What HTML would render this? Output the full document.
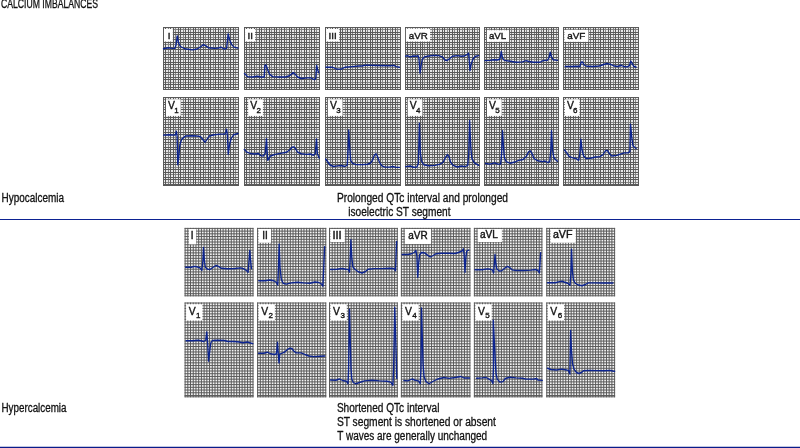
<!DOCTYPE html>
<html><head><meta charset="utf-8"><title>Calcium imbalances</title>
<style>
html,body{margin:0;padding:0;background:#fff;}
body{width:800px;height:448px;overflow:hidden;}
svg{display:block;}
text{font-family:"Liberation Sans","DejaVu Sans",sans-serif;fill:#111;}
.lab{fill:#151515;stroke:#151515;stroke-width:0.4;}
.tr{fill:none;stroke:#0c2490;stroke-width:1.35;stroke-linejoin:round;stroke-linecap:round;}
.gr{fill:none;stroke:#5a5a5a;stroke-width:1;}
.gf{fill:none;stroke:#858585;stroke-width:1;}
</style></head><body>
<svg width="800" height="448" viewBox="0 0 800 448">
<rect width="800" height="448" fill="#fff"/>

<g>
<rect x="163.5" y="27.5" width="75.0" height="62.0" fill="#e8e8e8"/>
<path class="gf" d="M168.5 27.0V90.0M175.5 27.0V90.0M183.5 27.0V90.0M190.5 27.0V90.0M198.5 27.0V90.0M205.5 27.0V90.0M213.5 27.0V90.0M220.5 27.0V90.0M228.5 27.0V90.0M235.5 27.0V90.0M163.0 29.5H239.0M163.0 37.5H239.0M163.0 44.5H239.0M163.0 52.5H239.0M163.0 59.5H239.0M163.0 67.5H239.0M163.0 74.5H239.0M163.0 82.5H239.0"/>
<path class="gr" d="M163.5 27.0V90.0M165.5 27.0V90.0M170.5 27.0V90.0M173.5 27.0V90.0M178.5 27.0V90.0M180.5 27.0V90.0M185.5 27.0V90.0M188.5 27.0V90.0M193.5 27.0V90.0M195.5 27.0V90.0M200.5 27.0V90.0M203.5 27.0V90.0M208.5 27.0V90.0M210.5 27.0V90.0M215.5 27.0V90.0M218.5 27.0V90.0M223.5 27.0V90.0M225.5 27.0V90.0M230.5 27.0V90.0M233.5 27.0V90.0M238.5 27.0V90.0M163.0 27.5H239.0M163.0 32.5H239.0M163.0 34.5H239.0M163.0 39.5H239.0M163.0 42.5H239.0M163.0 47.5H239.0M163.0 49.5H239.0M163.0 54.5H239.0M163.0 57.5H239.0M163.0 62.5H239.0M163.0 64.5H239.0M163.0 69.5H239.0M163.0 72.5H239.0M163.0 77.5H239.0M163.0 79.5H239.0M163.0 84.5H239.0M163.0 87.5H239.0M163.0 89.5H239.0"/>
<rect x="164.00" y="29.00" width="8.80" height="12.50" fill="#fff"/>
<text class="lab" x="167.70" y="39.30" font-size="9.9">I</text>
<polyline class="tr" points="163.50,48.75 168.50,47.75 172.25,48.38 174.75,48.38 176.00,45.25 177.25,35.88 178.50,42.75 180.38,46.50 184.75,48.75 192.25,49.88 197.25,49.00 201.00,46.50 203.50,44.62 206.00,45.88 208.50,47.75 211.62,48.00 214.75,48.38 218.50,48.00 221.00,47.12 224.12,49.00 226.62,48.38 228.12,34.00 229.75,40.25 231.62,44.62 234.12,47.12 237.88,48.12"/>
</g>
<g>
<rect x="244.5" y="27.5" width="75.0" height="62.0" fill="#e8e8e8"/>
<path class="gf" d="M249.5 27.0V90.0M256.5 27.0V90.0M264.5 27.0V90.0M271.5 27.0V90.0M279.5 27.0V90.0M286.5 27.0V90.0M294.5 27.0V90.0M301.5 27.0V90.0M309.5 27.0V90.0M316.5 27.0V90.0M244.0 29.5H320.0M244.0 37.5H320.0M244.0 44.5H320.0M244.0 52.5H320.0M244.0 59.5H320.0M244.0 67.5H320.0M244.0 74.5H320.0M244.0 82.5H320.0"/>
<path class="gr" d="M244.5 27.0V90.0M246.5 27.0V90.0M251.5 27.0V90.0M254.5 27.0V90.0M259.5 27.0V90.0M261.5 27.0V90.0M266.5 27.0V90.0M269.5 27.0V90.0M274.5 27.0V90.0M276.5 27.0V90.0M281.5 27.0V90.0M284.5 27.0V90.0M289.5 27.0V90.0M291.5 27.0V90.0M296.5 27.0V90.0M299.5 27.0V90.0M304.5 27.0V90.0M306.5 27.0V90.0M311.5 27.0V90.0M314.5 27.0V90.0M319.5 27.0V90.0M244.0 27.5H320.0M244.0 32.5H320.0M244.0 34.5H320.0M244.0 39.5H320.0M244.0 42.5H320.0M244.0 47.5H320.0M244.0 49.5H320.0M244.0 54.5H320.0M244.0 57.5H320.0M244.0 62.5H320.0M244.0 64.5H320.0M244.0 69.5H320.0M244.0 72.5H320.0M244.0 77.5H320.0M244.0 79.5H320.0M244.0 84.5H320.0M244.0 87.5H320.0M244.0 89.5H320.0"/>
<rect x="245.10" y="29.00" width="10.00" height="12.50" fill="#fff"/>
<text class="lab" x="247.45" y="39.30" font-size="9.9">II</text>
<polyline class="tr" points="244.50,73.50 247.62,76.62 252.62,77.00 257.62,76.25 260.75,77.00 264.25,77.00 264.88,65.38 266.00,65.00 267.62,69.75 269.50,74.12 272.62,76.62 279.50,77.00 285.75,77.00 289.50,75.75 293.25,72.62 295.12,74.12 297.62,77.00 301.38,78.50 307.00,77.88 310.75,77.88 314.50,79.75 315.75,78.50 316.62,65.38 317.62,69.75 318.88,72.88"/>
</g>
<g>
<rect x="325.5" y="27.5" width="75.0" height="62.0" fill="#e8e8e8"/>
<path class="gf" d="M330.5 27.0V90.0M337.5 27.0V90.0M345.5 27.0V90.0M352.5 27.0V90.0M360.5 27.0V90.0M367.5 27.0V90.0M375.5 27.0V90.0M382.5 27.0V90.0M390.5 27.0V90.0M397.5 27.0V90.0M325.0 29.5H401.0M325.0 37.5H401.0M325.0 44.5H401.0M325.0 52.5H401.0M325.0 59.5H401.0M325.0 67.5H401.0M325.0 74.5H401.0M325.0 82.5H401.0"/>
<path class="gr" d="M325.5 27.0V90.0M327.5 27.0V90.0M332.5 27.0V90.0M335.5 27.0V90.0M340.5 27.0V90.0M342.5 27.0V90.0M347.5 27.0V90.0M350.5 27.0V90.0M355.5 27.0V90.0M357.5 27.0V90.0M362.5 27.0V90.0M365.5 27.0V90.0M370.5 27.0V90.0M372.5 27.0V90.0M377.5 27.0V90.0M380.5 27.0V90.0M385.5 27.0V90.0M387.5 27.0V90.0M392.5 27.0V90.0M395.5 27.0V90.0M400.5 27.0V90.0M325.0 27.5H401.0M325.0 32.5H401.0M325.0 34.5H401.0M325.0 39.5H401.0M325.0 42.5H401.0M325.0 47.5H401.0M325.0 49.5H401.0M325.0 54.5H401.0M325.0 57.5H401.0M325.0 62.5H401.0M325.0 64.5H401.0M325.0 69.5H401.0M325.0 72.5H401.0M325.0 77.5H401.0M325.0 79.5H401.0M325.0 84.5H401.0M325.0 87.5H401.0M325.0 89.5H401.0"/>
<rect x="326.10" y="29.00" width="13.10" height="12.50" fill="#fff"/>
<text class="lab" x="328.45" y="39.30" font-size="9.9">III</text>
<polyline class="tr" points="326.00,67.25 332.50,67.25 336.88,69.12 341.25,69.12 345.00,67.25 352.50,66.62 358.75,66.00 361.88,66.00 365.62,65.12 377.50,65.50 390.00,65.75 393.75,65.38 396.25,66.62 399.38,67.25"/>
</g>
<g>
<rect x="405.5" y="27.5" width="74.0" height="62.0" fill="#e8e8e8"/>
<path class="gf" d="M410.5 27.0V90.0M417.5 27.0V90.0M424.5 27.0V90.0M432.5 27.0V90.0M439.5 27.0V90.0M447.5 27.0V90.0M454.5 27.0V90.0M462.5 27.0V90.0M469.5 27.0V90.0M477.5 27.0V90.0M405.0 29.5H480.0M405.0 37.5H480.0M405.0 44.5H480.0M405.0 52.5H480.0M405.0 59.5H480.0M405.0 67.5H480.0M405.0 74.5H480.0M405.0 82.5H480.0"/>
<path class="gr" d="M405.5 27.0V90.0M407.5 27.0V90.0M412.5 27.0V90.0M415.5 27.0V90.0M420.5 27.0V90.0M422.5 27.0V90.0M427.5 27.0V90.0M429.5 27.0V90.0M434.5 27.0V90.0M437.5 27.0V90.0M442.5 27.0V90.0M444.5 27.0V90.0M449.5 27.0V90.0M452.5 27.0V90.0M457.5 27.0V90.0M459.5 27.0V90.0M464.5 27.0V90.0M467.5 27.0V90.0M472.5 27.0V90.0M474.5 27.0V90.0M479.5 27.0V90.0M405.0 27.5H480.0M405.0 32.5H480.0M405.0 34.5H480.0M405.0 39.5H480.0M405.0 42.5H480.0M405.0 47.5H480.0M405.0 49.5H480.0M405.0 54.5H480.0M405.0 57.5H480.0M405.0 62.5H480.0M405.0 64.5H480.0M405.0 69.5H480.0M405.0 72.5H480.0M405.0 77.5H480.0M405.0 79.5H480.0M405.0 84.5H480.0M405.0 87.5H480.0M405.0 89.5H480.0"/>
<rect x="405.90" y="28.70" width="24.20" height="12.80" fill="#fff"/>
<text class="lab" x="408.80" y="39.30" font-size="9.9" textLength="19.00" lengthAdjust="spacingAndGlyphs">aVR</text>
<polyline class="tr" points="405.62,56.25 407.50,55.62 410.00,56.88 413.75,56.00 416.25,56.25 418.12,55.62 419.00,58.75 420.00,73.12 421.00,66.25 422.25,59.38 424.38,56.88 428.75,56.00 433.75,55.38 438.75,55.62 442.50,56.88 445.00,60.00 446.88,60.62 449.38,58.75 452.50,56.25 457.50,55.62 461.25,56.25 464.38,56.00 467.50,54.38 468.50,53.12 469.12,58.75 470.00,70.62 471.25,63.75 473.12,58.75 475.62,56.25 478.75,55.62"/>
</g>
<g>
<rect x="484.5" y="27.5" width="74.0" height="62.0" fill="#e8e8e8"/>
<path class="gf" d="M489.5 27.0V90.0M496.5 27.0V90.0M504.5 27.0V90.0M511.5 27.0V90.0M519.5 27.0V90.0M526.5 27.0V90.0M534.5 27.0V90.0M541.5 27.0V90.0M548.5 27.0V90.0M556.5 27.0V90.0M484.0 29.5H559.0M484.0 37.5H559.0M484.0 44.5H559.0M484.0 52.5H559.0M484.0 59.5H559.0M484.0 67.5H559.0M484.0 74.5H559.0M484.0 82.5H559.0"/>
<path class="gr" d="M484.5 27.0V90.0M486.5 27.0V90.0M491.5 27.0V90.0M494.5 27.0V90.0M499.5 27.0V90.0M501.5 27.0V90.0M506.5 27.0V90.0M509.5 27.0V90.0M514.5 27.0V90.0M516.5 27.0V90.0M521.5 27.0V90.0M524.5 27.0V90.0M529.5 27.0V90.0M531.5 27.0V90.0M536.5 27.0V90.0M538.5 27.0V90.0M543.5 27.0V90.0M546.5 27.0V90.0M551.5 27.0V90.0M553.5 27.0V90.0M558.5 27.0V90.0M484.0 27.5H559.0M484.0 32.5H559.0M484.0 34.5H559.0M484.0 39.5H559.0M484.0 42.5H559.0M484.0 47.5H559.0M484.0 49.5H559.0M484.0 54.5H559.0M484.0 57.5H559.0M484.0 62.5H559.0M484.0 64.5H559.0M484.0 69.5H559.0M484.0 72.5H559.0M484.0 77.5H559.0M484.0 79.5H559.0M484.0 84.5H559.0M484.0 87.5H559.0M484.0 89.5H559.0"/>
<rect x="486.90" y="30.25" width="22.20" height="11.55" fill="#fff"/>
<text class="lab" x="489.00" y="39.30" font-size="9.9" textLength="17.20" lengthAdjust="spacingAndGlyphs">aVL</text>
<polyline class="tr" points="485.00,60.62 490.00,60.38 493.75,59.75 497.50,60.00 500.00,59.00 501.25,51.50 502.50,58.12 504.38,60.38 510.00,61.25 516.25,62.25 522.50,61.88 526.25,60.62 528.75,61.50 533.75,62.25 540.00,62.25 543.12,60.62 547.50,60.25 549.12,57.50 550.25,52.25 551.50,56.88 553.12,59.75 557.50,60.38"/>
</g>
<g>
<rect x="563.5" y="27.5" width="75.0" height="62.0" fill="#e8e8e8"/>
<path class="gf" d="M568.5 27.0V90.0M575.5 27.0V90.0M583.5 27.0V90.0M590.5 27.0V90.0M598.5 27.0V90.0M605.5 27.0V90.0M613.5 27.0V90.0M620.5 27.0V90.0M628.5 27.0V90.0M635.5 27.0V90.0M563.0 29.5H639.0M563.0 37.5H639.0M563.0 44.5H639.0M563.0 52.5H639.0M563.0 59.5H639.0M563.0 67.5H639.0M563.0 74.5H639.0M563.0 82.5H639.0"/>
<path class="gr" d="M563.5 27.0V90.0M565.5 27.0V90.0M570.5 27.0V90.0M573.5 27.0V90.0M578.5 27.0V90.0M580.5 27.0V90.0M585.5 27.0V90.0M588.5 27.0V90.0M593.5 27.0V90.0M595.5 27.0V90.0M600.5 27.0V90.0M603.5 27.0V90.0M608.5 27.0V90.0M610.5 27.0V90.0M615.5 27.0V90.0M618.5 27.0V90.0M623.5 27.0V90.0M625.5 27.0V90.0M630.5 27.0V90.0M633.5 27.0V90.0M638.5 27.0V90.0M563.0 27.5H639.0M563.0 32.5H639.0M563.0 34.5H639.0M563.0 39.5H639.0M563.0 42.5H639.0M563.0 47.5H639.0M563.0 49.5H639.0M563.0 54.5H639.0M563.0 57.5H639.0M563.0 62.5H639.0M563.0 64.5H639.0M563.0 69.5H639.0M563.0 72.5H639.0M563.0 77.5H639.0M563.0 79.5H639.0M563.0 84.5H639.0M563.0 87.5H639.0M563.0 89.5H639.0"/>
<rect x="564.40" y="29.90" width="24.00" height="11.90" fill="#fff"/>
<text class="lab" x="567.20" y="39.30" font-size="9.9" textLength="18.00" lengthAdjust="spacingAndGlyphs">aVF</text>
<polyline class="tr" points="565.25,66.50 571.75,66.50 576.75,66.25 579.88,66.50 581.12,62.25 582.38,61.88 584.25,65.00 586.75,66.25 593.00,66.50 599.25,66.00 603.00,64.75 606.75,63.50 610.50,64.38 614.25,66.00 618.00,66.50 621.12,65.25 623.62,66.50 627.38,66.88 629.50,65.62 630.75,61.25 632.00,63.12 633.62,66.25 636.12,67.25"/>
</g>
<g>
<rect x="163.5" y="97.5" width="75.0" height="88.0" fill="#e8e8e8"/>
<path class="gf" d="M168.5 97.0V186.0M175.5 97.0V186.0M183.5 97.0V186.0M190.5 97.0V186.0M198.5 97.0V186.0M205.5 97.0V186.0M213.5 97.0V186.0M220.5 97.0V186.0M228.5 97.0V186.0M235.5 97.0V186.0M163.0 99.5H239.0M163.0 107.5H239.0M163.0 114.5H239.0M163.0 122.5H239.0M163.0 129.5H239.0M163.0 137.5H239.0M163.0 144.5H239.0M163.0 152.5H239.0M163.0 159.5H239.0M163.0 167.5H239.0M163.0 174.5H239.0M163.0 182.5H239.0"/>
<path class="gr" d="M163.5 97.0V186.0M165.5 97.0V186.0M170.5 97.0V186.0M173.5 97.0V186.0M178.5 97.0V186.0M180.5 97.0V186.0M185.5 97.0V186.0M188.5 97.0V186.0M193.5 97.0V186.0M195.5 97.0V186.0M200.5 97.0V186.0M203.5 97.0V186.0M208.5 97.0V186.0M210.5 97.0V186.0M215.5 97.0V186.0M218.5 97.0V186.0M223.5 97.0V186.0M225.5 97.0V186.0M230.5 97.0V186.0M233.5 97.0V186.0M238.5 97.0V186.0M163.0 97.5H239.0M163.0 102.5H239.0M163.0 104.5H239.0M163.0 109.5H239.0M163.0 112.5H239.0M163.0 117.5H239.0M163.0 119.5H239.0M163.0 124.5H239.0M163.0 127.5H239.0M163.0 132.5H239.0M163.0 134.5H239.0M163.0 139.5H239.0M163.0 142.5H239.0M163.0 147.5H239.0M163.0 149.5H239.0M163.0 154.5H239.0M163.0 157.5H239.0M163.0 162.5H239.0M163.0 164.5H239.0M163.0 169.5H239.0M163.0 172.5H239.0M163.0 177.5H239.0M163.0 179.5H239.0M163.0 184.5H239.0M163.0 185.5H239.0"/>
<rect x="166.00" y="99.30" width="14.70" height="16.60" fill="#fff"/>
<text class="lab" style="stroke-width:0.35" x="168.10" y="109.30" font-size="10.4" textLength="6.9" lengthAdjust="spacingAndGlyphs">V</text>
<text class="lab" x="174.30" y="112.80" font-size="8.0" style="stroke-width:0.35">1</text>
<polyline class="tr" points="163.62,135.12 169.25,134.75 174.25,135.12 175.50,134.75 176.38,131.25 177.12,136.00 177.75,164.75 178.62,158.50 179.88,144.75 181.75,139.12 185.50,136.00 191.75,135.75 196.75,136.00 200.50,136.62 203.00,139.75 205.12,142.25 206.75,139.75 209.25,136.00 214.25,134.75 220.50,134.12 224.88,134.12 225.88,132.25 226.50,129.12 227.38,134.75 228.25,154.12 229.50,144.75 231.12,138.50 233.62,134.75 238.00,133.50"/>
</g>
<g>
<rect x="244.5" y="97.5" width="75.0" height="88.0" fill="#e8e8e8"/>
<path class="gf" d="M249.5 97.0V186.0M256.5 97.0V186.0M264.5 97.0V186.0M271.5 97.0V186.0M279.5 97.0V186.0M286.5 97.0V186.0M294.5 97.0V186.0M301.5 97.0V186.0M309.5 97.0V186.0M316.5 97.0V186.0M244.0 99.5H320.0M244.0 107.5H320.0M244.0 114.5H320.0M244.0 122.5H320.0M244.0 129.5H320.0M244.0 137.5H320.0M244.0 144.5H320.0M244.0 152.5H320.0M244.0 159.5H320.0M244.0 167.5H320.0M244.0 174.5H320.0M244.0 182.5H320.0"/>
<path class="gr" d="M244.5 97.0V186.0M246.5 97.0V186.0M251.5 97.0V186.0M254.5 97.0V186.0M259.5 97.0V186.0M261.5 97.0V186.0M266.5 97.0V186.0M269.5 97.0V186.0M274.5 97.0V186.0M276.5 97.0V186.0M281.5 97.0V186.0M284.5 97.0V186.0M289.5 97.0V186.0M291.5 97.0V186.0M296.5 97.0V186.0M299.5 97.0V186.0M304.5 97.0V186.0M306.5 97.0V186.0M311.5 97.0V186.0M314.5 97.0V186.0M319.5 97.0V186.0M244.0 97.5H320.0M244.0 102.5H320.0M244.0 104.5H320.0M244.0 109.5H320.0M244.0 112.5H320.0M244.0 117.5H320.0M244.0 119.5H320.0M244.0 124.5H320.0M244.0 127.5H320.0M244.0 132.5H320.0M244.0 134.5H320.0M244.0 139.5H320.0M244.0 142.5H320.0M244.0 147.5H320.0M244.0 149.5H320.0M244.0 154.5H320.0M244.0 157.5H320.0M244.0 162.5H320.0M244.0 164.5H320.0M244.0 169.5H320.0M244.0 172.5H320.0M244.0 177.5H320.0M244.0 179.5H320.0M244.0 184.5H320.0M244.0 185.5H320.0"/>
<rect x="248.20" y="99.30" width="14.70" height="16.60" fill="#fff"/>
<text class="lab" style="stroke-width:0.35" x="250.30" y="109.30" font-size="10.4" textLength="6.9" lengthAdjust="spacingAndGlyphs">V</text>
<text class="lab" x="256.50" y="112.80" font-size="8.0" style="stroke-width:0.35">2</text>
<polyline class="tr" points="244.25,149.38 246.50,151.88 250.25,153.50 254.62,154.00 258.38,153.50 260.88,155.62 263.38,156.00 265.25,153.12 266.50,138.75 267.12,151.25 267.75,160.25 269.00,158.75 270.25,156.00 275.25,154.38 281.50,153.12 286.50,152.25 289.62,150.00 292.12,147.25 294.00,146.88 295.88,149.38 297.75,152.25 301.50,153.75 306.50,154.38 310.25,154.00 313.38,155.25 315.25,153.75 316.50,139.00 317.38,153.75 319.25,158.12"/>
</g>
<g>
<rect x="325.5" y="97.5" width="75.0" height="88.0" fill="#e8e8e8"/>
<path class="gf" d="M330.5 97.0V186.0M337.5 97.0V186.0M345.5 97.0V186.0M352.5 97.0V186.0M360.5 97.0V186.0M367.5 97.0V186.0M375.5 97.0V186.0M382.5 97.0V186.0M390.5 97.0V186.0M397.5 97.0V186.0M325.0 99.5H401.0M325.0 107.5H401.0M325.0 114.5H401.0M325.0 122.5H401.0M325.0 129.5H401.0M325.0 137.5H401.0M325.0 144.5H401.0M325.0 152.5H401.0M325.0 159.5H401.0M325.0 167.5H401.0M325.0 174.5H401.0M325.0 182.5H401.0"/>
<path class="gr" d="M325.5 97.0V186.0M327.5 97.0V186.0M332.5 97.0V186.0M335.5 97.0V186.0M340.5 97.0V186.0M342.5 97.0V186.0M347.5 97.0V186.0M350.5 97.0V186.0M355.5 97.0V186.0M357.5 97.0V186.0M362.5 97.0V186.0M365.5 97.0V186.0M370.5 97.0V186.0M372.5 97.0V186.0M377.5 97.0V186.0M380.5 97.0V186.0M385.5 97.0V186.0M387.5 97.0V186.0M392.5 97.0V186.0M395.5 97.0V186.0M400.5 97.0V186.0M325.0 97.5H401.0M325.0 102.5H401.0M325.0 104.5H401.0M325.0 109.5H401.0M325.0 112.5H401.0M325.0 117.5H401.0M325.0 119.5H401.0M325.0 124.5H401.0M325.0 127.5H401.0M325.0 132.5H401.0M325.0 134.5H401.0M325.0 139.5H401.0M325.0 142.5H401.0M325.0 147.5H401.0M325.0 149.5H401.0M325.0 154.5H401.0M325.0 157.5H401.0M325.0 162.5H401.0M325.0 164.5H401.0M325.0 169.5H401.0M325.0 172.5H401.0M325.0 177.5H401.0M325.0 179.5H401.0M325.0 184.5H401.0M325.0 185.5H401.0"/>
<rect x="327.85" y="99.30" width="14.70" height="16.60" fill="#fff"/>
<text class="lab" style="stroke-width:0.35" x="329.95" y="109.30" font-size="10.4" textLength="6.9" lengthAdjust="spacingAndGlyphs">V</text>
<text class="lab" x="336.15" y="112.80" font-size="8.0" style="stroke-width:0.35">3</text>
<polyline class="tr" points="325.62,159.00 327.50,161.50 330.00,165.00 333.75,166.50 337.50,165.88 341.25,165.50 345.00,166.50 347.25,165.25 348.12,149.00 348.75,130.00 349.62,146.50 350.62,160.25 352.50,163.38 356.25,164.62 362.50,164.62 367.50,164.25 370.62,163.00 372.50,160.25 374.38,155.25 376.00,153.75 377.50,156.50 379.38,162.12 381.88,165.88 385.00,167.12 390.00,167.12 392.50,166.50 396.25,167.38 399.38,167.38"/>
</g>
<g>
<rect x="405.5" y="97.5" width="74.0" height="88.0" fill="#e8e8e8"/>
<path class="gf" d="M410.5 97.0V186.0M417.5 97.0V186.0M424.5 97.0V186.0M432.5 97.0V186.0M439.5 97.0V186.0M447.5 97.0V186.0M454.5 97.0V186.0M462.5 97.0V186.0M469.5 97.0V186.0M477.5 97.0V186.0M405.0 99.5H480.0M405.0 107.5H480.0M405.0 114.5H480.0M405.0 122.5H480.0M405.0 129.5H480.0M405.0 137.5H480.0M405.0 144.5H480.0M405.0 152.5H480.0M405.0 159.5H480.0M405.0 167.5H480.0M405.0 174.5H480.0M405.0 182.5H480.0"/>
<path class="gr" d="M405.5 97.0V186.0M407.5 97.0V186.0M412.5 97.0V186.0M415.5 97.0V186.0M420.5 97.0V186.0M422.5 97.0V186.0M427.5 97.0V186.0M429.5 97.0V186.0M434.5 97.0V186.0M437.5 97.0V186.0M442.5 97.0V186.0M444.5 97.0V186.0M449.5 97.0V186.0M452.5 97.0V186.0M457.5 97.0V186.0M459.5 97.0V186.0M464.5 97.0V186.0M467.5 97.0V186.0M472.5 97.0V186.0M474.5 97.0V186.0M479.5 97.0V186.0M405.0 97.5H480.0M405.0 102.5H480.0M405.0 104.5H480.0M405.0 109.5H480.0M405.0 112.5H480.0M405.0 117.5H480.0M405.0 119.5H480.0M405.0 124.5H480.0M405.0 127.5H480.0M405.0 132.5H480.0M405.0 134.5H480.0M405.0 139.5H480.0M405.0 142.5H480.0M405.0 147.5H480.0M405.0 149.5H480.0M405.0 154.5H480.0M405.0 157.5H480.0M405.0 162.5H480.0M405.0 164.5H480.0M405.0 169.5H480.0M405.0 172.5H480.0M405.0 177.5H480.0M405.0 179.5H480.0M405.0 184.5H480.0M405.0 185.5H480.0"/>
<rect x="407.70" y="99.30" width="14.70" height="16.60" fill="#fff"/>
<text class="lab" style="stroke-width:0.35" x="409.80" y="109.30" font-size="10.4" textLength="6.9" lengthAdjust="spacingAndGlyphs">V</text>
<text class="lab" x="416.00" y="112.80" font-size="8.0" style="stroke-width:0.35">4</text>
<polyline class="tr" points="405.62,166.62 410.00,166.00 413.75,167.25 416.88,167.00 418.38,163.50 419.38,123.25 420.38,153.50 421.50,161.00 423.75,164.75 428.75,165.75 435.00,165.38 440.00,164.12 443.12,162.25 445.62,157.25 447.50,154.75 449.00,156.62 450.62,162.25 453.12,165.38 457.50,167.00 461.25,166.00 465.00,166.62 467.75,165.38 468.75,153.50 469.62,120.38 470.75,147.25 471.88,158.50 474.38,162.88 478.75,165.38"/>
</g>
<g>
<rect x="484.5" y="97.5" width="74.0" height="88.0" fill="#e8e8e8"/>
<path class="gf" d="M489.5 97.0V186.0M496.5 97.0V186.0M504.5 97.0V186.0M511.5 97.0V186.0M519.5 97.0V186.0M526.5 97.0V186.0M534.5 97.0V186.0M541.5 97.0V186.0M548.5 97.0V186.0M556.5 97.0V186.0M484.0 99.5H559.0M484.0 107.5H559.0M484.0 114.5H559.0M484.0 122.5H559.0M484.0 129.5H559.0M484.0 137.5H559.0M484.0 144.5H559.0M484.0 152.5H559.0M484.0 159.5H559.0M484.0 167.5H559.0M484.0 174.5H559.0M484.0 182.5H559.0"/>
<path class="gr" d="M484.5 97.0V186.0M486.5 97.0V186.0M491.5 97.0V186.0M494.5 97.0V186.0M499.5 97.0V186.0M501.5 97.0V186.0M506.5 97.0V186.0M509.5 97.0V186.0M514.5 97.0V186.0M516.5 97.0V186.0M521.5 97.0V186.0M524.5 97.0V186.0M529.5 97.0V186.0M531.5 97.0V186.0M536.5 97.0V186.0M538.5 97.0V186.0M543.5 97.0V186.0M546.5 97.0V186.0M551.5 97.0V186.0M553.5 97.0V186.0M558.5 97.0V186.0M484.0 97.5H559.0M484.0 102.5H559.0M484.0 104.5H559.0M484.0 109.5H559.0M484.0 112.5H559.0M484.0 117.5H559.0M484.0 119.5H559.0M484.0 124.5H559.0M484.0 127.5H559.0M484.0 132.5H559.0M484.0 134.5H559.0M484.0 139.5H559.0M484.0 142.5H559.0M484.0 147.5H559.0M484.0 149.5H559.0M484.0 154.5H559.0M484.0 157.5H559.0M484.0 162.5H559.0M484.0 164.5H559.0M484.0 169.5H559.0M484.0 172.5H559.0M484.0 177.5H559.0M484.0 179.5H559.0M484.0 184.5H559.0M484.0 185.5H559.0"/>
<rect x="487.00" y="99.30" width="14.70" height="16.60" fill="#fff"/>
<text class="lab" style="stroke-width:0.35" x="489.10" y="109.30" font-size="10.4" textLength="6.9" lengthAdjust="spacingAndGlyphs">V</text>
<text class="lab" x="495.30" y="112.80" font-size="8.0" style="stroke-width:0.35">5</text>
<polyline class="tr" points="485.62,163.50 490.00,164.12 494.38,162.88 498.12,164.12 500.62,164.12 501.62,153.50 502.50,130.75 503.50,147.25 504.38,157.88 506.25,161.62 510.00,163.25 515.00,162.00 518.75,160.38 523.12,159.50 526.25,156.62 528.75,151.62 530.62,151.00 532.25,154.12 534.00,158.50 537.50,160.75 542.50,161.62 545.00,161.00 547.50,162.50 549.75,161.62 550.75,151.00 551.50,130.75 552.50,149.75 553.75,157.25 555.62,159.75 557.50,161.25"/>
</g>
<g>
<rect x="563.5" y="97.5" width="75.0" height="88.0" fill="#e8e8e8"/>
<path class="gf" d="M568.5 97.0V186.0M575.5 97.0V186.0M583.5 97.0V186.0M590.5 97.0V186.0M598.5 97.0V186.0M605.5 97.0V186.0M613.5 97.0V186.0M620.5 97.0V186.0M628.5 97.0V186.0M635.5 97.0V186.0M563.0 99.5H639.0M563.0 107.5H639.0M563.0 114.5H639.0M563.0 122.5H639.0M563.0 129.5H639.0M563.0 137.5H639.0M563.0 144.5H639.0M563.0 152.5H639.0M563.0 159.5H639.0M563.0 167.5H639.0M563.0 174.5H639.0M563.0 182.5H639.0"/>
<path class="gr" d="M563.5 97.0V186.0M565.5 97.0V186.0M570.5 97.0V186.0M573.5 97.0V186.0M578.5 97.0V186.0M580.5 97.0V186.0M585.5 97.0V186.0M588.5 97.0V186.0M593.5 97.0V186.0M595.5 97.0V186.0M600.5 97.0V186.0M603.5 97.0V186.0M608.5 97.0V186.0M610.5 97.0V186.0M615.5 97.0V186.0M618.5 97.0V186.0M623.5 97.0V186.0M625.5 97.0V186.0M630.5 97.0V186.0M633.5 97.0V186.0M638.5 97.0V186.0M563.0 97.5H639.0M563.0 102.5H639.0M563.0 104.5H639.0M563.0 109.5H639.0M563.0 112.5H639.0M563.0 117.5H639.0M563.0 119.5H639.0M563.0 124.5H639.0M563.0 127.5H639.0M563.0 132.5H639.0M563.0 134.5H639.0M563.0 139.5H639.0M563.0 142.5H639.0M563.0 147.5H639.0M563.0 149.5H639.0M563.0 154.5H639.0M563.0 157.5H639.0M563.0 162.5H639.0M563.0 164.5H639.0M563.0 169.5H639.0M563.0 172.5H639.0M563.0 177.5H639.0M563.0 179.5H639.0M563.0 184.5H639.0M563.0 185.5H639.0"/>
<rect x="564.80" y="99.30" width="14.70" height="16.60" fill="#fff"/>
<text class="lab" style="stroke-width:0.35" x="566.90" y="109.30" font-size="10.4" textLength="6.9" lengthAdjust="spacingAndGlyphs">V</text>
<text class="lab" x="573.10" y="112.80" font-size="8.0" style="stroke-width:0.35">6</text>
<polyline class="tr" points="564.50,150.00 566.75,152.88 569.25,156.62 573.00,157.88 576.12,158.50 578.62,160.38 579.88,153.50 580.88,139.12 582.00,149.75 583.62,156.00 586.12,158.50 590.50,158.25 595.50,157.00 599.88,156.62 603.00,154.75 605.50,150.75 607.38,150.38 609.25,153.50 611.75,156.00 616.75,155.38 620.50,154.12 624.25,152.88 628.00,152.88 629.88,151.62 630.50,124.12 631.75,137.25 633.00,146.00 636.12,148.50"/>
</g>
<g>
<rect x="185.5" y="228.5" width="68.0" height="67.0" fill="#f4f4f4"/>
<path class="gf" d=""/>
<path class="gr" style="stroke-width:1.0" d="M185.10 227.90V296.30M187.82 227.90V296.30M190.53 227.90V296.30M193.25 227.90V296.30M195.96 227.90V296.30M198.68 227.90V296.30M201.40 227.90V296.30M204.11 227.90V296.30M206.83 227.90V296.30M209.54 227.90V296.30M212.26 227.90V296.30M214.98 227.90V296.30M217.69 227.90V296.30M220.41 227.90V296.30M223.12 227.90V296.30M225.84 227.90V296.30M228.56 227.90V296.30M231.27 227.90V296.30M233.99 227.90V296.30M236.70 227.90V296.30M239.42 227.90V296.30M242.14 227.90V296.30M244.85 227.90V296.30M247.57 227.90V296.30M250.28 227.90V296.30M253.00 227.90V296.30M184.60 228.40H253.50M184.60 231.12H253.50M184.60 233.84H253.50M184.60 236.56H253.50M184.60 239.28H253.50M184.60 242.00H253.50M184.60 244.72H253.50M184.60 247.44H253.50M184.60 250.16H253.50M184.60 252.88H253.50M184.60 255.60H253.50M184.60 258.32H253.50M184.60 261.04H253.50M184.60 263.76H253.50M184.60 266.48H253.50M184.60 269.20H253.50M184.60 271.92H253.50M184.60 274.64H253.50M184.60 277.36H253.50M184.60 280.08H253.50M184.60 282.80H253.50M184.60 285.52H253.50M184.60 288.24H253.50M184.60 290.96H253.50M184.60 293.68H253.50M184.60 295.80H253.50"/>
<rect x="188.90" y="229.00" width="7.20" height="15.30" fill="#fff"/>
<text class="lab" x="190.70" y="238.70" font-size="10.0">I</text>
<polyline class="tr" points="185.62,267.25 191.25,267.25 194.38,266.38 197.50,267.00 200.00,267.88 201.88,270.38 202.88,261.00 203.50,247.50 204.38,261.00 205.38,267.25 207.50,269.12 210.00,269.50 213.12,267.25 216.25,265.38 218.75,266.62 221.25,268.25 227.50,268.75 235.00,268.50 240.62,267.88 243.75,268.75 246.25,270.38 248.12,272.25 249.00,261.00 249.75,250.38 250.62,261.00 251.50,268.75"/>
</g>
<g>
<rect x="257.5" y="228.5" width="68.0" height="67.0" fill="#f4f4f4"/>
<path class="gf" d=""/>
<path class="gr" style="stroke-width:1.0" d="M257.60 227.90V296.30M260.33 227.90V296.30M263.05 227.90V296.30M265.78 227.90V296.30M268.50 227.90V296.30M271.23 227.90V296.30M273.96 227.90V296.30M276.68 227.90V296.30M279.41 227.90V296.30M282.13 227.90V296.30M284.86 227.90V296.30M287.59 227.90V296.30M290.31 227.90V296.30M293.04 227.90V296.30M295.76 227.90V296.30M298.49 227.90V296.30M301.22 227.90V296.30M303.94 227.90V296.30M306.67 227.90V296.30M309.39 227.90V296.30M312.12 227.90V296.30M314.85 227.90V296.30M317.57 227.90V296.30M320.30 227.90V296.30M323.02 227.90V296.30M325.75 227.90V296.30M257.10 228.40H326.25M257.10 231.12H326.25M257.10 233.84H326.25M257.10 236.56H326.25M257.10 239.28H326.25M257.10 242.00H326.25M257.10 244.72H326.25M257.10 247.44H326.25M257.10 250.16H326.25M257.10 252.88H326.25M257.10 255.60H326.25M257.10 258.32H326.25M257.10 261.04H326.25M257.10 263.76H326.25M257.10 266.48H326.25M257.10 269.20H326.25M257.10 271.92H326.25M257.10 274.64H326.25M257.10 277.36H326.25M257.10 280.08H326.25M257.10 282.80H326.25M257.10 285.52H326.25M257.10 288.24H326.25M257.10 290.96H326.25M257.10 293.68H326.25M257.10 295.80H326.25"/>
<rect x="258.50" y="229.00" width="12.50" height="13.75" fill="#fff"/>
<text class="lab" x="262.20" y="238.60" font-size="10.0">II</text>
<polyline class="tr" points="258.75,280.75 265.00,280.75 270.00,280.00 273.75,280.75 276.25,282.25 277.75,285.00 278.50,267.25 279.12,244.12 280.00,267.25 281.25,279.12 283.12,283.25 286.25,284.12 291.25,282.88 297.50,282.25 303.75,282.88 310.00,283.25 315.00,282.00 318.75,282.50 321.25,283.75 322.88,286.25 323.75,267.25 324.62,246.62"/>
</g>
<g>
<rect x="329.5" y="228.5" width="68.0" height="67.0" fill="#f4f4f4"/>
<path class="gf" d=""/>
<path class="gr" style="stroke-width:1.0" d="M329.50 227.90V296.30M332.21 227.90V296.30M334.92 227.90V296.30M337.64 227.90V296.30M340.35 227.90V296.30M343.06 227.90V296.30M345.77 227.90V296.30M348.48 227.90V296.30M351.20 227.90V296.30M353.91 227.90V296.30M356.62 227.90V296.30M359.33 227.90V296.30M362.04 227.90V296.30M364.76 227.90V296.30M367.47 227.90V296.30M370.18 227.90V296.30M372.89 227.90V296.30M375.60 227.90V296.30M378.32 227.90V296.30M381.03 227.90V296.30M383.74 227.90V296.30M386.45 227.90V296.30M389.16 227.90V296.30M391.88 227.90V296.30M394.59 227.90V296.30M397.30 227.90V296.30M329.00 228.40H397.80M329.00 231.12H397.80M329.00 233.84H397.80M329.00 236.56H397.80M329.00 239.28H397.80M329.00 242.00H397.80M329.00 244.72H397.80M329.00 247.44H397.80M329.00 250.16H397.80M329.00 252.88H397.80M329.00 255.60H397.80M329.00 258.32H397.80M329.00 261.04H397.80M329.00 263.76H397.80M329.00 266.48H397.80M329.00 269.20H397.80M329.00 271.92H397.80M329.00 274.64H397.80M329.00 277.36H397.80M329.00 280.08H397.80M329.00 282.80H397.80M329.00 285.52H397.80M329.00 288.24H397.80M329.00 290.96H397.80M329.00 293.68H397.80M329.00 295.80H397.80"/>
<rect x="330.40" y="229.00" width="14.35" height="13.00" fill="#fff"/>
<text class="lab" x="332.40" y="238.60" font-size="10.0" textLength="9.30" lengthAdjust="spacingAndGlyphs">III</text>
<polyline class="tr" points="330.50,269.50 337.00,269.25 342.00,268.50 345.75,269.25 348.25,269.50 349.50,272.25 350.25,257.00 350.88,239.75 351.75,257.00 352.88,267.00 355.12,269.50 358.25,271.75 362.00,273.00 365.12,271.75 368.25,269.25 374.50,268.62 382.00,268.62 389.50,268.25 393.88,268.50 395.50,270.75 396.00,257.00 396.62,241.38"/>
</g>
<g>
<rect x="401.5" y="228.5" width="68.0" height="67.0" fill="#f4f4f4"/>
<path class="gf" d=""/>
<path class="gr" style="stroke-width:1.0" d="M401.40 227.90V296.30M404.14 227.90V296.30M406.88 227.90V296.30M409.62 227.90V296.30M412.36 227.90V296.30M415.10 227.90V296.30M417.84 227.90V296.30M420.58 227.90V296.30M423.32 227.90V296.30M426.06 227.90V296.30M428.80 227.90V296.30M431.54 227.90V296.30M434.28 227.90V296.30M437.02 227.90V296.30M439.76 227.90V296.30M442.50 227.90V296.30M445.24 227.90V296.30M447.98 227.90V296.30M450.72 227.90V296.30M453.46 227.90V296.30M456.20 227.90V296.30M458.94 227.90V296.30M461.68 227.90V296.30M464.42 227.90V296.30M467.16 227.90V296.30M469.90 227.90V296.30M400.90 228.40H470.40M400.90 231.12H470.40M400.90 233.84H470.40M400.90 236.56H470.40M400.90 239.28H470.40M400.90 242.00H470.40M400.90 244.72H470.40M400.90 247.44H470.40M400.90 250.16H470.40M400.90 252.88H470.40M400.90 255.60H470.40M400.90 258.32H470.40M400.90 261.04H470.40M400.90 263.76H470.40M400.90 266.48H470.40M400.90 269.20H470.40M400.90 271.92H470.40M400.90 274.64H470.40M400.90 277.36H470.40M400.90 280.08H470.40M400.90 282.80H470.40M400.90 285.52H470.40M400.90 288.24H470.40M400.90 290.96H470.40M400.90 293.68H470.40M400.90 295.80H470.40"/>
<rect x="404.90" y="229.00" width="26.20" height="15.00" fill="#fff"/>
<text class="lab" x="408.20" y="238.70" font-size="10.0" textLength="19.40" lengthAdjust="spacingAndGlyphs">aVR</text>
<polyline class="tr" points="402.12,254.50 407.75,254.50 411.50,253.75 414.62,252.25 415.88,250.38 416.88,256.00 417.75,277.25 418.62,263.50 419.62,254.75 421.50,252.50 424.62,252.88 427.75,255.38 430.25,257.00 432.75,255.75 435.88,253.75 441.50,253.25 449.00,253.25 455.25,253.50 459.00,252.25 462.12,251.00 463.38,248.75 464.12,254.75 465.00,272.25 465.88,257.25 466.75,251.00 468.75,250.12"/>
</g>
<g>
<rect x="474.5" y="228.5" width="67.0" height="67.0" fill="#f4f4f4"/>
<path class="gf" d=""/>
<path class="gr" style="stroke-width:1.0" d="M474.40 227.90V296.30M477.10 227.90V296.30M479.80 227.90V296.30M482.50 227.90V296.30M485.20 227.90V296.30M487.90 227.90V296.30M490.60 227.90V296.30M493.30 227.90V296.30M496.00 227.90V296.30M498.70 227.90V296.30M501.40 227.90V296.30M504.10 227.90V296.30M506.80 227.90V296.30M509.50 227.90V296.30M512.20 227.90V296.30M514.90 227.90V296.30M517.60 227.90V296.30M520.30 227.90V296.30M523.00 227.90V296.30M525.70 227.90V296.30M528.40 227.90V296.30M531.10 227.90V296.30M533.80 227.90V296.30M536.50 227.90V296.30M539.20 227.90V296.30M541.90 227.90V296.30M473.90 228.40H542.40M473.90 231.12H542.40M473.90 233.84H542.40M473.90 236.56H542.40M473.90 239.28H542.40M473.90 242.00H542.40M473.90 244.72H542.40M473.90 247.44H542.40M473.90 250.16H542.40M473.90 252.88H542.40M473.90 255.60H542.40M473.90 258.32H542.40M473.90 261.04H542.40M473.90 263.76H542.40M473.90 266.48H542.40M473.90 269.20H542.40M473.90 271.92H542.40M473.90 274.64H542.40M473.90 277.36H542.40M473.90 280.08H542.40M473.90 282.80H542.40M473.90 285.52H542.40M473.90 288.24H542.40M473.90 290.96H542.40M473.90 293.68H542.40M473.90 295.80H542.40"/>
<rect x="477.75" y="229.00" width="24.15" height="13.00" fill="#fff"/>
<text class="lab" x="479.90" y="238.40" font-size="10.0" textLength="18.00" lengthAdjust="spacingAndGlyphs">aVL</text>
<polyline class="tr" points="475.00,269.75 482.25,269.75 487.25,268.88 490.38,269.25 492.50,270.12 493.62,273.00 494.38,263.25 495.00,254.50 495.75,263.25 496.88,268.88 499.12,271.00 501.62,270.75 504.75,268.25 507.50,266.38 509.75,267.62 512.25,269.88 516.00,270.50 523.50,270.50 531.00,270.12 535.38,269.50 537.88,270.50 539.38,273.00 540.00,263.25 540.62,252.62"/>
</g>
<g>
<rect x="546.5" y="228.5" width="68.0" height="67.0" fill="#f4f4f4"/>
<path class="gf" d=""/>
<path class="gr" style="stroke-width:1.0" d="M546.75 227.90V296.30M549.46 227.90V296.30M552.18 227.90V296.30M554.89 227.90V296.30M557.61 227.90V296.30M560.32 227.90V296.30M563.03 227.90V296.30M565.75 227.90V296.30M568.46 227.90V296.30M571.18 227.90V296.30M573.89 227.90V296.30M576.60 227.90V296.30M579.32 227.90V296.30M582.03 227.90V296.30M584.75 227.90V296.30M587.46 227.90V296.30M590.17 227.90V296.30M592.89 227.90V296.30M595.60 227.90V296.30M598.32 227.90V296.30M601.03 227.90V296.30M603.74 227.90V296.30M606.46 227.90V296.30M609.17 227.90V296.30M611.89 227.90V296.30M614.60 227.90V296.30M546.25 228.40H615.10M546.25 231.12H615.10M546.25 233.84H615.10M546.25 236.56H615.10M546.25 239.28H615.10M546.25 242.00H615.10M546.25 244.72H615.10M546.25 247.44H615.10M546.25 250.16H615.10M546.25 252.88H615.10M546.25 255.60H615.10M546.25 258.32H615.10M546.25 261.04H615.10M546.25 263.76H615.10M546.25 266.48H615.10M546.25 269.20H615.10M546.25 271.92H615.10M546.25 274.64H615.10M546.25 277.36H615.10M546.25 280.08H615.10M546.25 282.80H615.10M546.25 285.52H615.10M546.25 288.24H615.10M546.25 290.96H615.10M546.25 293.68H615.10M546.25 295.80H615.10"/>
<rect x="550.50" y="229.00" width="25.25" height="13.75" fill="#fff"/>
<text class="lab" x="552.90" y="238.40" font-size="10.0" textLength="19.60" lengthAdjust="spacingAndGlyphs">aVF</text>
<polyline class="tr" points="547.50,282.75 555.25,282.75 559.62,281.62 562.12,281.25 564.62,282.25 567.75,283.25 570.00,285.38 570.88,273.50 571.50,249.12 572.38,271.00 573.38,279.75 575.25,283.25 578.38,285.00 582.12,285.75 585.25,284.50 588.38,282.88 594.00,282.88 604.00,283.00 613.00,283.00"/>
</g>
<g>
<rect x="185.5" y="303.5" width="68.0" height="93.0" fill="#f4f4f4"/>
<path class="gf" d=""/>
<path class="gr" style="stroke-width:1.0" d="M185.10 302.50V397.30M187.82 302.50V397.30M190.53 302.50V397.30M193.25 302.50V397.30M195.96 302.50V397.30M198.68 302.50V397.30M201.40 302.50V397.30M204.11 302.50V397.30M206.83 302.50V397.30M209.54 302.50V397.30M212.26 302.50V397.30M214.98 302.50V397.30M217.69 302.50V397.30M220.41 302.50V397.30M223.12 302.50V397.30M225.84 302.50V397.30M228.56 302.50V397.30M231.27 302.50V397.30M233.99 302.50V397.30M236.70 302.50V397.30M239.42 302.50V397.30M242.14 302.50V397.30M244.85 302.50V397.30M247.57 302.50V397.30M250.28 302.50V397.30M253.00 302.50V397.30M184.60 303.00H253.50M184.60 305.72H253.50M184.60 308.44H253.50M184.60 311.16H253.50M184.60 313.88H253.50M184.60 316.60H253.50M184.60 319.32H253.50M184.60 322.04H253.50M184.60 324.76H253.50M184.60 327.48H253.50M184.60 330.20H253.50M184.60 332.92H253.50M184.60 335.64H253.50M184.60 338.36H253.50M184.60 341.08H253.50M184.60 343.80H253.50M184.60 346.52H253.50M184.60 349.24H253.50M184.60 351.96H253.50M184.60 354.68H253.50M184.60 357.40H253.50M184.60 360.12H253.50M184.60 362.84H253.50M184.60 365.56H253.50M184.60 368.28H253.50M184.60 371.00H253.50M184.60 373.72H253.50M184.60 376.44H253.50M184.60 379.16H253.50M184.60 381.88H253.50M184.60 384.60H253.50M184.60 387.32H253.50M184.60 390.04H253.50M184.60 392.76H253.50M184.60 395.48H253.50M184.60 396.80H253.50"/>
<rect x="186.10" y="304.25" width="16.30" height="16.25" fill="#fff"/>
<text class="lab" style="stroke-width:0.35" x="188.70" y="314.90" font-size="10.2" textLength="6.9" lengthAdjust="spacingAndGlyphs">V</text>
<text class="lab" x="196.00" y="318.10" font-size="8.0" style="stroke-width:0.35">1</text>
<polyline class="tr" points="186.12,340.75 193.00,340.75 198.00,340.25 201.12,340.75 203.62,341.50 205.75,340.25 206.75,332.00 207.62,343.00 208.62,361.12 209.50,353.00 210.75,343.00 212.38,340.50 218.00,340.25 224.25,340.50 228.00,341.50 234.25,341.50 239.25,342.00 243.00,342.75 247.38,342.00 250.50,343.00 252.75,343.62"/>
</g>
<g>
<rect x="257.5" y="303.5" width="68.0" height="93.0" fill="#f4f4f4"/>
<path class="gf" d=""/>
<path class="gr" style="stroke-width:1.0" d="M257.60 302.50V397.30M260.33 302.50V397.30M263.05 302.50V397.30M265.78 302.50V397.30M268.50 302.50V397.30M271.23 302.50V397.30M273.96 302.50V397.30M276.68 302.50V397.30M279.41 302.50V397.30M282.13 302.50V397.30M284.86 302.50V397.30M287.59 302.50V397.30M290.31 302.50V397.30M293.04 302.50V397.30M295.76 302.50V397.30M298.49 302.50V397.30M301.22 302.50V397.30M303.94 302.50V397.30M306.67 302.50V397.30M309.39 302.50V397.30M312.12 302.50V397.30M314.85 302.50V397.30M317.57 302.50V397.30M320.30 302.50V397.30M323.02 302.50V397.30M325.75 302.50V397.30M257.10 303.00H326.25M257.10 305.72H326.25M257.10 308.44H326.25M257.10 311.16H326.25M257.10 313.88H326.25M257.10 316.60H326.25M257.10 319.32H326.25M257.10 322.04H326.25M257.10 324.76H326.25M257.10 327.48H326.25M257.10 330.20H326.25M257.10 332.92H326.25M257.10 335.64H326.25M257.10 338.36H326.25M257.10 341.08H326.25M257.10 343.80H326.25M257.10 346.52H326.25M257.10 349.24H326.25M257.10 351.96H326.25M257.10 354.68H326.25M257.10 357.40H326.25M257.10 360.12H326.25M257.10 362.84H326.25M257.10 365.56H326.25M257.10 368.28H326.25M257.10 371.00H326.25M257.10 373.72H326.25M257.10 376.44H326.25M257.10 379.16H326.25M257.10 381.88H326.25M257.10 384.60H326.25M257.10 387.32H326.25M257.10 390.04H326.25M257.10 392.76H326.25M257.10 395.48H326.25M257.10 396.80H326.25"/>
<rect x="258.60" y="304.25" width="16.30" height="16.25" fill="#fff"/>
<text class="lab" style="stroke-width:0.35" x="261.20" y="314.90" font-size="10.2" textLength="6.9" lengthAdjust="spacingAndGlyphs">V</text>
<text class="lab" x="268.50" y="318.10" font-size="8.0" style="stroke-width:0.35">2</text>
<polyline class="tr" points="258.50,353.25 263.75,353.25 267.50,352.25 270.62,353.75 274.38,354.50 276.50,353.75 277.50,342.25 278.25,353.50 279.00,362.88 279.75,354.12 281.88,353.25 284.38,352.25 286.88,350.00 289.38,348.25 291.88,348.50 293.75,351.00 296.25,352.88 301.25,352.88 305.00,354.50 308.75,356.00 313.75,356.62 320.00,356.25 324.75,356.00"/>
</g>
<g>
<rect x="329.5" y="303.5" width="68.0" height="93.0" fill="#f4f4f4"/>
<path class="gf" d=""/>
<path class="gr" style="stroke-width:1.0" d="M329.50 302.50V397.30M332.21 302.50V397.30M334.92 302.50V397.30M337.64 302.50V397.30M340.35 302.50V397.30M343.06 302.50V397.30M345.77 302.50V397.30M348.48 302.50V397.30M351.20 302.50V397.30M353.91 302.50V397.30M356.62 302.50V397.30M359.33 302.50V397.30M362.04 302.50V397.30M364.76 302.50V397.30M367.47 302.50V397.30M370.18 302.50V397.30M372.89 302.50V397.30M375.60 302.50V397.30M378.32 302.50V397.30M381.03 302.50V397.30M383.74 302.50V397.30M386.45 302.50V397.30M389.16 302.50V397.30M391.88 302.50V397.30M394.59 302.50V397.30M397.30 302.50V397.30M329.00 303.00H397.80M329.00 305.72H397.80M329.00 308.44H397.80M329.00 311.16H397.80M329.00 313.88H397.80M329.00 316.60H397.80M329.00 319.32H397.80M329.00 322.04H397.80M329.00 324.76H397.80M329.00 327.48H397.80M329.00 330.20H397.80M329.00 332.92H397.80M329.00 335.64H397.80M329.00 338.36H397.80M329.00 341.08H397.80M329.00 343.80H397.80M329.00 346.52H397.80M329.00 349.24H397.80M329.00 351.96H397.80M329.00 354.68H397.80M329.00 357.40H397.80M329.00 360.12H397.80M329.00 362.84H397.80M329.00 365.56H397.80M329.00 368.28H397.80M329.00 371.00H397.80M329.00 373.72H397.80M329.00 376.44H397.80M329.00 379.16H397.80M329.00 381.88H397.80M329.00 384.60H397.80M329.00 387.32H397.80M329.00 390.04H397.80M329.00 392.76H397.80M329.00 395.48H397.80M329.00 396.80H397.80"/>
<rect x="330.50" y="304.25" width="16.30" height="16.25" fill="#fff"/>
<text class="lab" style="stroke-width:0.35" x="333.10" y="314.90" font-size="10.2" textLength="6.9" lengthAdjust="spacingAndGlyphs">V</text>
<text class="lab" x="340.40" y="318.10" font-size="8.0" style="stroke-width:0.35">3</text>
<polyline class="tr" points="330.50,380.00 335.75,380.25 339.50,379.00 342.60,380.50 346.40,381.25 348.00,383.75 348.60,369.00 349.50,309.25 351.00,369.00 351.75,379.00 353.25,382.50 355.75,383.75 359.50,382.50 364.50,380.90 372.00,380.25 379.50,380.90 387.00,381.25 390.75,382.10 392.90,385.25 393.60,369.00 394.75,307.40 396.40,362.75 396.75,378.40"/>
</g>
<g>
<rect x="401.5" y="303.5" width="68.0" height="93.0" fill="#f4f4f4"/>
<path class="gf" d=""/>
<path class="gr" style="stroke-width:1.0" d="M401.40 302.50V397.30M404.14 302.50V397.30M406.88 302.50V397.30M409.62 302.50V397.30M412.36 302.50V397.30M415.10 302.50V397.30M417.84 302.50V397.30M420.58 302.50V397.30M423.32 302.50V397.30M426.06 302.50V397.30M428.80 302.50V397.30M431.54 302.50V397.30M434.28 302.50V397.30M437.02 302.50V397.30M439.76 302.50V397.30M442.50 302.50V397.30M445.24 302.50V397.30M447.98 302.50V397.30M450.72 302.50V397.30M453.46 302.50V397.30M456.20 302.50V397.30M458.94 302.50V397.30M461.68 302.50V397.30M464.42 302.50V397.30M467.16 302.50V397.30M469.90 302.50V397.30M400.90 303.00H470.40M400.90 305.72H470.40M400.90 308.44H470.40M400.90 311.16H470.40M400.90 313.88H470.40M400.90 316.60H470.40M400.90 319.32H470.40M400.90 322.04H470.40M400.90 324.76H470.40M400.90 327.48H470.40M400.90 330.20H470.40M400.90 332.92H470.40M400.90 335.64H470.40M400.90 338.36H470.40M400.90 341.08H470.40M400.90 343.80H470.40M400.90 346.52H470.40M400.90 349.24H470.40M400.90 351.96H470.40M400.90 354.68H470.40M400.90 357.40H470.40M400.90 360.12H470.40M400.90 362.84H470.40M400.90 365.56H470.40M400.90 368.28H470.40M400.90 371.00H470.40M400.90 373.72H470.40M400.90 376.44H470.40M400.90 379.16H470.40M400.90 381.88H470.40M400.90 384.60H470.40M400.90 387.32H470.40M400.90 390.04H470.40M400.90 392.76H470.40M400.90 395.48H470.40M400.90 396.80H470.40"/>
<rect x="402.40" y="304.25" width="16.30" height="16.25" fill="#fff"/>
<text class="lab" style="stroke-width:0.35" x="405.00" y="314.90" font-size="10.2" textLength="6.9" lengthAdjust="spacingAndGlyphs">V</text>
<text class="lab" x="412.30" y="318.10" font-size="8.0" style="stroke-width:0.35">4</text>
<polyline class="tr" points="404.00,380.50 407.75,380.90 412.10,379.00 415.25,380.25 418.40,380.90 420.25,383.75 421.00,369.00 421.50,308.00 423.00,362.75 424.00,376.50 425.90,381.50 429.00,383.75 432.75,381.50 437.75,379.00 444.00,377.50 449.00,378.40 455.25,377.50 460.90,376.50 464.00,378.00 469.60,378.00"/>
</g>
<g>
<rect x="474.5" y="303.5" width="67.0" height="93.0" fill="#f4f4f4"/>
<path class="gf" d=""/>
<path class="gr" style="stroke-width:1.0" d="M474.40 302.50V397.30M477.10 302.50V397.30M479.80 302.50V397.30M482.50 302.50V397.30M485.20 302.50V397.30M487.90 302.50V397.30M490.60 302.50V397.30M493.30 302.50V397.30M496.00 302.50V397.30M498.70 302.50V397.30M501.40 302.50V397.30M504.10 302.50V397.30M506.80 302.50V397.30M509.50 302.50V397.30M512.20 302.50V397.30M514.90 302.50V397.30M517.60 302.50V397.30M520.30 302.50V397.30M523.00 302.50V397.30M525.70 302.50V397.30M528.40 302.50V397.30M531.10 302.50V397.30M533.80 302.50V397.30M536.50 302.50V397.30M539.20 302.50V397.30M541.90 302.50V397.30M473.90 303.00H542.40M473.90 305.72H542.40M473.90 308.44H542.40M473.90 311.16H542.40M473.90 313.88H542.40M473.90 316.60H542.40M473.90 319.32H542.40M473.90 322.04H542.40M473.90 324.76H542.40M473.90 327.48H542.40M473.90 330.20H542.40M473.90 332.92H542.40M473.90 335.64H542.40M473.90 338.36H542.40M473.90 341.08H542.40M473.90 343.80H542.40M473.90 346.52H542.40M473.90 349.24H542.40M473.90 351.96H542.40M473.90 354.68H542.40M473.90 357.40H542.40M473.90 360.12H542.40M473.90 362.84H542.40M473.90 365.56H542.40M473.90 368.28H542.40M473.90 371.00H542.40M473.90 373.72H542.40M473.90 376.44H542.40M473.90 379.16H542.40M473.90 381.88H542.40M473.90 384.60H542.40M473.90 387.32H542.40M473.90 390.04H542.40M473.90 392.76H542.40M473.90 395.48H542.40M473.90 396.80H542.40"/>
<rect x="475.40" y="304.25" width="16.30" height="16.25" fill="#fff"/>
<text class="lab" style="stroke-width:0.35" x="478.00" y="314.90" font-size="10.2" textLength="6.9" lengthAdjust="spacingAndGlyphs">V</text>
<text class="lab" x="485.30" y="318.10" font-size="8.0" style="stroke-width:0.35">5</text>
<polyline class="tr" points="476.60,378.25 482.25,377.90 486.00,377.50 489.10,379.10 491.60,380.75 492.90,383.50 493.50,367.25 493.25,320.25 495.00,354.75 496.00,373.50 497.25,379.10 499.75,382.00 502.90,381.60 505.40,378.50 509.75,377.25 516.00,377.90 522.25,378.25 526.00,379.10 533.50,379.10 536.60,378.50 537.90,380.00 542.25,380.40"/>
</g>
<g>
<rect x="546.5" y="303.5" width="68.0" height="93.0" fill="#f4f4f4"/>
<path class="gf" d=""/>
<path class="gr" style="stroke-width:1.0" d="M546.75 302.50V397.30M549.46 302.50V397.30M552.18 302.50V397.30M554.89 302.50V397.30M557.61 302.50V397.30M560.32 302.50V397.30M563.03 302.50V397.30M565.75 302.50V397.30M568.46 302.50V397.30M571.18 302.50V397.30M573.89 302.50V397.30M576.60 302.50V397.30M579.32 302.50V397.30M582.03 302.50V397.30M584.75 302.50V397.30M587.46 302.50V397.30M590.17 302.50V397.30M592.89 302.50V397.30M595.60 302.50V397.30M598.32 302.50V397.30M601.03 302.50V397.30M603.74 302.50V397.30M606.46 302.50V397.30M609.17 302.50V397.30M611.89 302.50V397.30M614.60 302.50V397.30M546.25 303.00H615.10M546.25 305.72H615.10M546.25 308.44H615.10M546.25 311.16H615.10M546.25 313.88H615.10M546.25 316.60H615.10M546.25 319.32H615.10M546.25 322.04H615.10M546.25 324.76H615.10M546.25 327.48H615.10M546.25 330.20H615.10M546.25 332.92H615.10M546.25 335.64H615.10M546.25 338.36H615.10M546.25 341.08H615.10M546.25 343.80H615.10M546.25 346.52H615.10M546.25 349.24H615.10M546.25 351.96H615.10M546.25 354.68H615.10M546.25 357.40H615.10M546.25 360.12H615.10M546.25 362.84H615.10M546.25 365.56H615.10M546.25 368.28H615.10M546.25 371.00H615.10M546.25 373.72H615.10M546.25 376.44H615.10M546.25 379.16H615.10M546.25 381.88H615.10M546.25 384.60H615.10M546.25 387.32H615.10M546.25 390.04H615.10M546.25 392.76H615.10M546.25 395.48H615.10M546.25 396.80H615.10"/>
<rect x="547.75" y="304.25" width="16.30" height="16.25" fill="#fff"/>
<text class="lab" style="stroke-width:0.35" x="550.35" y="314.90" font-size="10.2" textLength="6.9" lengthAdjust="spacingAndGlyphs">V</text>
<text class="lab" x="557.65" y="318.10" font-size="8.0" style="stroke-width:0.35">6</text>
<polyline class="tr" points="547.50,368.25 550.88,369.50 556.50,370.00 561.50,369.12 565.25,369.75 568.38,370.38 569.88,374.12 570.25,351.00 570.62,330.38 571.50,351.00 572.50,363.50 574.00,369.12 576.50,372.50 579.00,373.50 581.50,372.50 583.38,370.75 589.00,370.38 596.50,370.62 604.00,370.75 610.25,370.38 612.75,371.00 614.62,371.25"/>
</g>
<rect x="0" y="219" width="800" height="1" fill="#0c2292"/>
<rect x="0" y="446.75" width="800" height="1.25" fill="#0a1c8a"/>
<text x="1.00" y="8.00" font-size="12" textLength="97.00" lengthAdjust="spacingAndGlyphs" stroke="#111" stroke-width="0.3">CALCIUM IMBALANCES</text>
<text x="1.50" y="201.50" font-size="12" textLength="62.50" lengthAdjust="spacingAndGlyphs" stroke="#111" stroke-width="0.3">Hypocalcemia</text>
<text x="337.00" y="201.50" font-size="12" textLength="171.00" lengthAdjust="spacingAndGlyphs" stroke="#111" stroke-width="0.3">Prolonged QTc interval and prolonged</text>
<text x="348.25" y="216.00" font-size="12" textLength="102.25" lengthAdjust="spacingAndGlyphs" stroke="#111" stroke-width="0.3">isoelectric ST segment</text>
<text x="1.50" y="411.50" font-size="12" textLength="65.00" lengthAdjust="spacingAndGlyphs" stroke="#111" stroke-width="0.3">Hypercalcemia</text>
<text x="336.90" y="411.50" font-size="12" textLength="102.50" lengthAdjust="spacingAndGlyphs" stroke="#111" stroke-width="0.3">Shortened QTc interval</text>
<text x="336.90" y="426.10" font-size="12" textLength="159.00" lengthAdjust="spacingAndGlyphs" stroke="#111" stroke-width="0.3">ST segment is shortened or absent</text>
<text x="337.20" y="439.90" font-size="12" textLength="150.00" lengthAdjust="spacingAndGlyphs" stroke="#111" stroke-width="0.3">T waves are generally unchanged</text>
</svg></body></html>
